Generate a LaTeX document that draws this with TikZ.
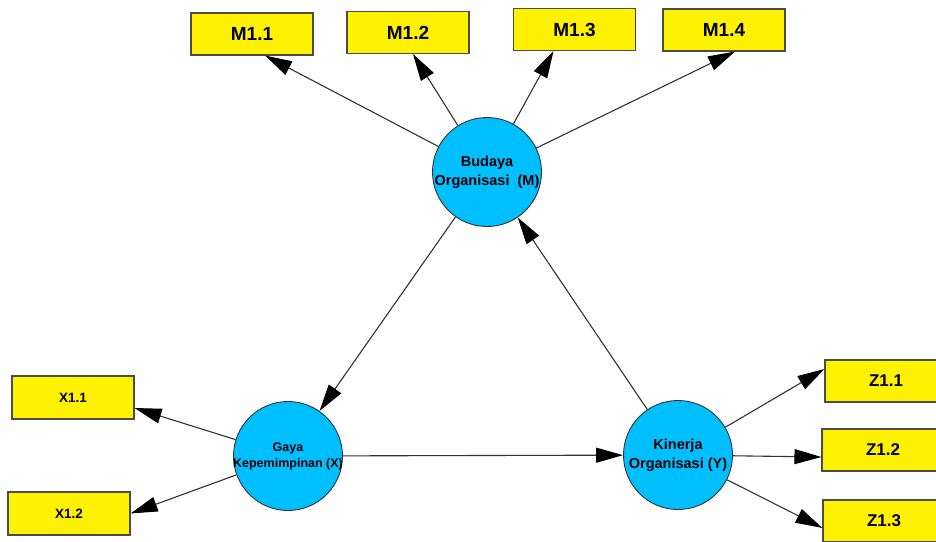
\documentclass[tikz,border=0pt]{standalone}
\usepackage{fontspec}
\setmainfont{Liberation Sans}
\usetikzlibrary{arrows.meta,calc}
\definecolor{lvblue}{RGB}{0,191,255}
\begin{document}
\begin{tikzpicture}[x=1pt,y=-1pt,
  lv/.style={circle, draw=black!80, line width=0.9pt, fill=lvblue, minimum size=109pt, inner sep=0pt},
  lvtext/.style={align=center, font=\bfseries\fontsize{14.5}{19}\selectfont, inner sep=0pt},
  ind/.style={rectangle, draw=black!70, line width=1.1pt, fill=yellow, minimum width=122pt, minimum height=42pt, inner sep=0pt},
  bigind/.style={ind, font=\bfseries\fontsize{19}{22}\selectfont},
  zind/.style={ind, font=\bfseries\fontsize{17}{20}\selectfont},
  xind/.style={ind, minimum height=43pt, font=\bfseries\fontsize{13.5}{16}\selectfont},
  arr/.style={draw=black!80, line width=1.1pt, -{Triangle[length=27pt,width=15pt,color=black]}}
]
\useasboundingbox (0,0) rectangle (936,541);
\clip (0,0) rectangle (936,541);

% latent variables
\node[lv] (M) at (487,172) {};
\node[lvtext] (Mt) at (487,172) {Budaya\\Organisasi~~(M)};
\node[lv] (X) at (288,456) {};
\node[lvtext, font=\bfseries\fontsize{12.5}{16}\selectfont] (Xt) at (288,456) {Gaya\\Kepemimpinan (X)};
\node[lv] (Y) at (678,455) {};
\node[lvtext] (Yt) at (678,455) {Kinerja\\Organisasi (Y)};

% indicators
\node[bigind] (M11) at (252,34) {M1.1};
\node[bigind] (M12) at (408,32.5) {M1.2};
\node[bigind] (M13) at (574.5,29.5) {M1.3};
\node[bigind] (M14) at (724,30) {M1.4};
\node[xind] (X11) at (73,397.5) {X1.1};
\node[xind] (X12) at (69,513.5) {X1.2};
\node[zind] (Z11) at (886,381) {Z1.1};
\node[zind] (Z12) at (883,450) {Z1.2};
\node[zind] (Z13) at (884,521) {Z1.3};

% connectors
\draw[arr] (M) -- ($(M11.south)+(13,0)$);
\draw[arr] (M) -- ($(M12.south)+(5,0)$);
\draw[arr] (M) -- ($(M13.south)+(-21,0)$);
\draw[arr] (M) -- ($(M14.south)+(11,0)$);
\draw[arr] (M) -- (X);
\draw[arr] (Y) -- (M);
\draw[arr] (X) -- (Y);
\draw[arr] (X) -- ($(X11.east)+(0,10.5)$);
\draw[arr] (X) -- (X12.east);
\draw[arr] (Y) -- ($(Z11.west)+(0,-12)$);
\draw[arr] (Y) -- ($(Z12.west)+(0,7)$);
\draw[arr] (Y) -- ($(Z13.west)+(0,7)$);
\end{tikzpicture}
\end{document}
